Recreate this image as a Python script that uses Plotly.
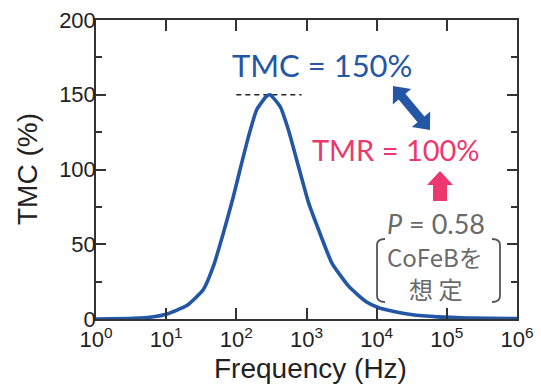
import math
import plotly.graph_objects as go

# ---- data ----
freq_hz = [1, 3.4, 6.6, 10, 19.7, 33.9, 47.1, 65.5, 90.8, 113, 149, 195, 269, 302,
           422, 550, 769, 1072, 1479, 2291, 3981, 6918, 10700, 14200,
           30900, 74000, 219000, 1000000]
tmc_pct = [0, 0.4, 1.5, 3.2, 9, 19.7, 35.3, 57.7, 82, 100, 122, 140, 149, 150,
           142, 126.7, 102, 77.7, 60, 37.6, 22, 11.9, 7.5, 6.0,
           3.0, 1.4, 0.6, 0.3]
peak_line_x = [100, 850]
peak_line_y = [150, 150]
x_tickvals = [1, 10, 100, 1000, 10000, 100000, 1000000]
x_ticktext = ["10<sup>%d</sup>" % i for i in range(7)]
y_tickvals = [0, 50, 100, 150, 200]

BLUE = "#2456A6"
PINK = "#EC386E"
GRAY = "#6A6A6A"
INK = "#222222"

W, H = 541, 387
L, R, T, B = 96, 24, 20, 68
PW, PH = W - L - R, H - T - B


def px(x):
    return (x - L) / PW


def py(y):
    return (H - B - y) / PH


fig = go.Figure()
fig.add_trace(go.Scatter(x=peak_line_x, y=peak_line_y, mode="lines",
                         line=dict(color=INK, width=1.5, dash="5px,4px"),
                         hoverinfo="skip", showlegend=False))
fig.add_trace(go.Scatter(x=freq_hz, y=tmc_pct, mode="lines",
                         line=dict(color=BLUE, width=3.6, shape="spline", smoothing=0.5),
                         showlegend=False))

tickfont = dict(family="Liberation Sans, Arial", size=22, color=INK)
fig.update_xaxes(type="log", range=[0, 6], tickvals=x_tickvals, ticktext=x_ticktext,
                 ticks="inside", ticklen=11, tickwidth=1.5, tickcolor="#333333",
                 showline=True, linecolor="#333333", linewidth=1.5, mirror="ticks",
                 showgrid=False, zeroline=False, tickfont=tickfont, automargin=False)
fig.update_yaxes(range=[0, 200], tickvals=y_tickvals,
                 ticks="inside", ticklen=10, tickwidth=1.5, tickcolor="#333333",
                 minor=dict(dtick=25, ticks="inside", ticklen=6, tickwidth=1.5,
                            tickcolor="#333333", showgrid=False),
                 showline=True, linecolor="#333333", linewidth=1.5, mirror="ticks",
                 showgrid=False, zeroline=False, tickfont=tickfont, automargin=False,
                 ticklabelstandoff=-6)

latin = "Lato, Noto Sans CJK JP"
anns = [
    dict(text="Frequency (Hz)", x=px(310), y=py(368),
         font=dict(family="Liberation Sans, Arial", size=28, color=INK)),
    dict(text="TMC (%)", x=px(27), y=py(169), textangle=-90,
         font=dict(family="Liberation Sans, Arial", size=28, color=INK)),
    dict(text="TMC = 150%", x=px(322), y=py(65), font=dict(family=latin, size=31, color=BLUE)),
    dict(text="TMR = 100%", x=px(396), y=py(149), font=dict(family=latin, size=29, color=PINK)),
    dict(text="<i>P</i> = 0.58", x=px(436), y=py(223), font=dict(family=latin, size=27, color=GRAY)),
    dict(text="CoFeBを", x=px(435), y=py(256), font=dict(family="Noto Sans CJK JP", size=24, color=GRAY)),
    dict(text="想 定", x=px(435), y=py(288), font=dict(family="Noto Sans CJK JP", size=24, color=GRAY)),
]
for a in anns:
    fig.add_annotation(xref="paper", yref="paper", showarrow=False,
                       xanchor="center", yanchor="middle", **a)


def poly(points):
    return "M " + " L ".join("%.4f,%.4f" % (px(x), py(y)) for x, y in points) + " Z"


# blue double-headed arrow (pixel geometry -> paper)
x1, y1, x2, y2 = 393, 86, 430, 130
dx, dy = x2 - x1, y2 - y1
ln = math.hypot(dx, dy)
ux, uy = dx / ln, dy / ln
nx, ny = -uy, ux
hl, hw, sw = 14, 12, 4.5
pts = [
    (x1, y1),
    (x1 + ux * hl + nx * hw, y1 + uy * hl + ny * hw),
    (x1 + ux * hl + nx * sw, y1 + uy * hl + ny * sw),
    (x2 - ux * hl + nx * sw, y2 - uy * hl + ny * sw),
    (x2 - ux * hl + nx * hw, y2 - uy * hl + ny * hw),
    (x2, y2),
    (x2 - ux * hl - nx * hw, y2 - uy * hl - ny * hw),
    (x2 - ux * hl - nx * sw, y2 - uy * hl - ny * sw),
    (x1 + ux * hl - nx * sw, y1 + uy * hl - ny * sw),
    (x1 + ux * hl - nx * hw, y1 + uy * hl - ny * hw),
]
fig.add_shape(type="path", xref="paper", yref="paper", path=poly(pts),
              fillcolor=BLUE, line=dict(width=0), layer="above")

# pink up arrow
pk = [(440, 171), (453, 185), (447, 185), (447, 201), (433, 201), (433, 185), (427, 185)]
fig.add_shape(type="path", xref="paper", yref="paper", path=poly(pk),
              fillcolor=PINK, line=dict(width=0), layer="above")


def bracket(xe, xv, ytop, ybot):
    r = 6
    return ("M %.4f,%.4f Q %.4f,%.4f %.4f,%.4f L %.4f,%.4f Q %.4f,%.4f %.4f,%.4f" % (
        px(xe), py(ytop), px(xv), py(ytop), px(xv), py(ytop + r),
        px(xv), py(ybot - r), px(xv), py(ybot), px(xe), py(ybot)))


for xe, xv in [(385, 377), (492, 500)]:
    fig.add_shape(type="path", xref="paper", yref="paper", path=bracket(xe, xv, 239, 302),
                  line=dict(color="#555555", width=1.8), layer="above")

fig.update_layout(width=W, height=H, margin=dict(l=L, r=R, t=T, b=B),
                  plot_bgcolor="white", paper_bgcolor="white", showlegend=False)
fig.write_html("out.html")
